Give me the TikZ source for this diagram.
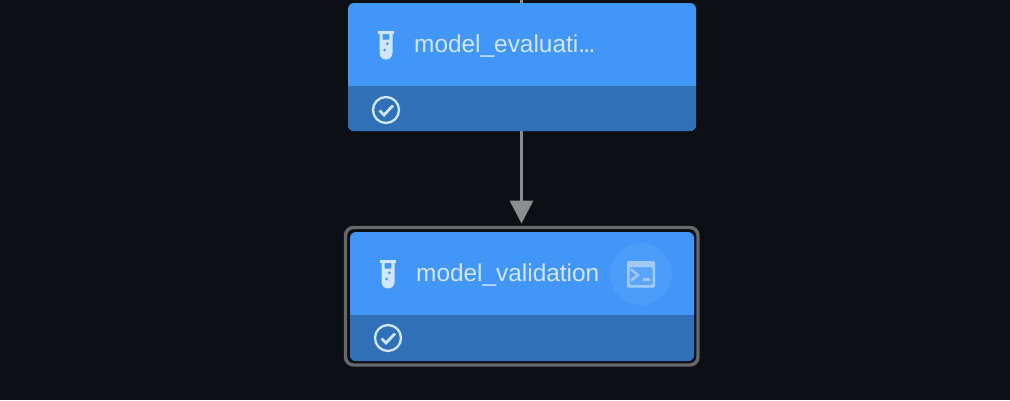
\documentclass[tikz,border=0pt]{standalone}
\usepackage{fontspec}
\setmainfont{Liberation Sans}
\usetikzlibrary{arrows.meta}
\definecolor{bgc}{HTML}{0D0F15}
\definecolor{cardtop}{HTML}{4296F8}
\definecolor{cardbot}{HTML}{3070B7}
\definecolor{inkc}{HTML}{CFE6FD}
\definecolor{edgec}{HTML}{8B8D91}
\definecolor{ringc}{HTML}{66686C}
\definecolor{halo}{HTML}{4C9CF9}
\definecolor{termc}{HTML}{A0CAFB}
\definecolor{termin}{HTML}{5AA5F9}
\tikzset{
  x=1pt,y=-1pt,
  cardshape/.style={draw=none,fill=cardtop,rounded corners=6pt,inner sep=0pt,outer sep=0pt},
  labeltext/.style={anchor=west,inner sep=0pt,text=inkc,font=\fontsize{24.4}{28}\selectfont},
  edgeline/.style={draw=edgec,line width=3.6pt},
  tube/.pic={
    \fill[inkc] (-7.8,-14) rectangle (7.8,-11);
    \fill[inkc,even odd rule] (-6.5,-11.5) -- (6.5,-11.5) -- (6.5,8) arc[start angle=0,end angle=180,radius=6.5] -- cycle
       (-3.4,-11) rectangle (3.4,-5.5);
    \fill[cardtop] (1.3,-1.3) circle[radius=1.5] (-1.3,5) circle[radius=1.5];
  },
  checkmark/.pic={
    \draw[inkc,line width=2.3pt] (0,0) circle[radius=13];
    \draw[inkc,line width=2.8pt] (-6.5,0.5) -- (-2,5) -- (7,-4.5);
  },
}
\begin{document}
\begin{tikzpicture}
\useasboundingbox (0,0) rectangle (1010,400);
\fill[bgc] (0,0) rectangle (1010,400);
% stub entering the first card from above
\coordinate (stub) at (521.5,0);
% first card
\node[cardshape,minimum width=348pt,minimum height=128pt] (eval) at (522,67) {};
\begin{scope}
  \clip[rounded corners=6pt] (348,3) rectangle (696,131);
  \fill[cardbot] (348,86) rectangle (696,131);
\end{scope}
\pic at (386,45) {tube};
\node[labeltext] (evallabel) at (414,46.5) {model\_evaluati.\kern-1.6pt.\kern-1.6pt.};
\pic at (386,110) {checkmark};
% outer selection ring
\draw[ringc,line width=3.4pt,rounded corners=8pt] (345.5,227.5) rectangle (698,365);
% second card
\node[cardshape,minimum width=344pt,minimum height=129pt] (valid) at (522,296.5) {};
\begin{scope}
  \clip[rounded corners=6pt] (350,232) rectangle (694,361);
  \fill[cardbot] (350,315) rectangle (694,361);
\end{scope}
\pic at (388,274) {tube};
\node[labeltext] (validlabel) at (416,275.5) {model\_validation};
\pic at (388,338) {checkmark};
\node[circle,fill=halo,minimum size=62pt,inner sep=0pt] (termbtn) at (641,274) {};
\fill[termin] (627,261) rectangle (655,287.5);
\fill[termc,rounded corners=1.5pt,even odd rule] (627,261) rectangle (655,287.5)
   (629.5,267) rectangle (652.5,285);
\draw[termc,line width=2.4pt] (631,269.5) -- (638,275) -- (631,280.5);
\draw[termc,line width=2.2pt] (642.5,279.5) -- (650,279.5);
% connectors
\draw[edgeline] (stub) -- (eval.north -| stub);
\draw[edgeline,-{Triangle[length=23pt,width=23pt]}] (eval.south -| stub) -- (521.5,223.5);
\end{tikzpicture}
\end{document}
